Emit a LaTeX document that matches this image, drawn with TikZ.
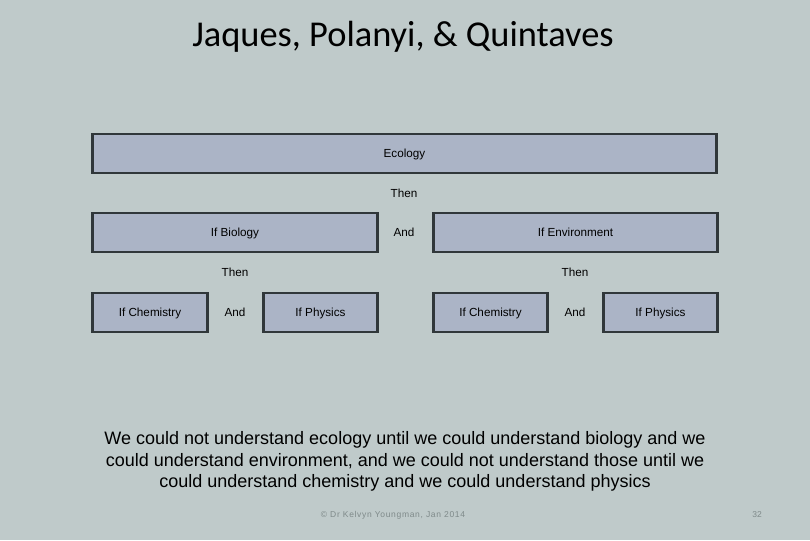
\documentclass[tikz,border=0pt]{standalone}
\usepackage{fontspec}
\setmainfont{Liberation Sans}
\newfontfamily\titlefont{Carlito}
\newfontfamily\footfont[LetterSpace=8]{Liberation Sans}
\definecolor{bg}{HTML}{BFCACA}
\definecolor{boxfill}{HTML}{ABB4C6}
\definecolor{boxline}{HTML}{30373A}
\definecolor{foot}{HTML}{7F8A8A}
\begin{document}
\begin{tikzpicture}[x=1pt,y=-1pt,
  lbox/.style={draw=boxline,line width=2.6pt,fill=boxfill,inner sep=0pt,text height=10pt,text depth=2pt,font=\fontsize{11.7}{13}\selectfont},
  word/.style={inner sep=0pt,text height=10pt,text depth=2pt,font=\fontsize{11.7}{13}\selectfont}]
\fill[bg] (0,0) rectangle (810,540);
\useasboundingbox (0,0) rectangle (810,540);
\node[inner sep=0pt,font=\titlefont\fontsize{36.4}{40}\selectfont] (title) at (403,37) {Jaques, Polanyi, \& Quintaves};
\node[lbox,minimum width=624pt,minimum height=39pt] (eco) at (404.5,153.5) {Ecology};
\node[word] (then1) at (404,193) {Then};
\node[lbox,minimum width=285pt,minimum height=39pt] (bio) at (235,232.5) {If Biology};
\node[word] (and1) at (404,232.5) {And};
\node[lbox,minimum width=284pt,minimum height=39pt] (env) at (575.5,232.5) {If Environment};
\node[word] (then2) at (235,272) {Then};
\node[word] (then3) at (575,272) {Then};
\node[lbox,minimum width=115pt,minimum height=39pt] (chem1) at (150,312.5) {If Chemistry};
\node[word] (and2) at (235,312.5) {And};
\node[lbox,minimum width=114pt,minimum height=39pt] (phys1) at (320.5,312.5) {If Physics};
\node[lbox,minimum width=114pt,minimum height=39pt] (chem2) at (490.5,312.5) {If Chemistry};
\node[word] (and3) at (575,312.5) {And};
\node[lbox,minimum width=114pt,minimum height=39pt] (phys2) at (660.5,312.5) {If Physics};
\node[align=center,inner sep=0pt,font=\fontsize{18}{21.5}\selectfont] (body) at (405,461.5) {We could not understand ecology until we could understand biology and we\\could understand environment, and we could not understand those until we\\could understand chemistry and we could understand physics};
\node[inner sep=0pt,text=foot,font=\footfont\fontsize{8.5}{10}\selectfont] (footer) at (393,515) {© Dr Kelvyn Youngman, Jan 2014};
\node[inner sep=0pt,text=foot,font=\fontsize{8.5}{10}\selectfont] (page) at (757,515) {32};
\end{tikzpicture}
\end{document}
